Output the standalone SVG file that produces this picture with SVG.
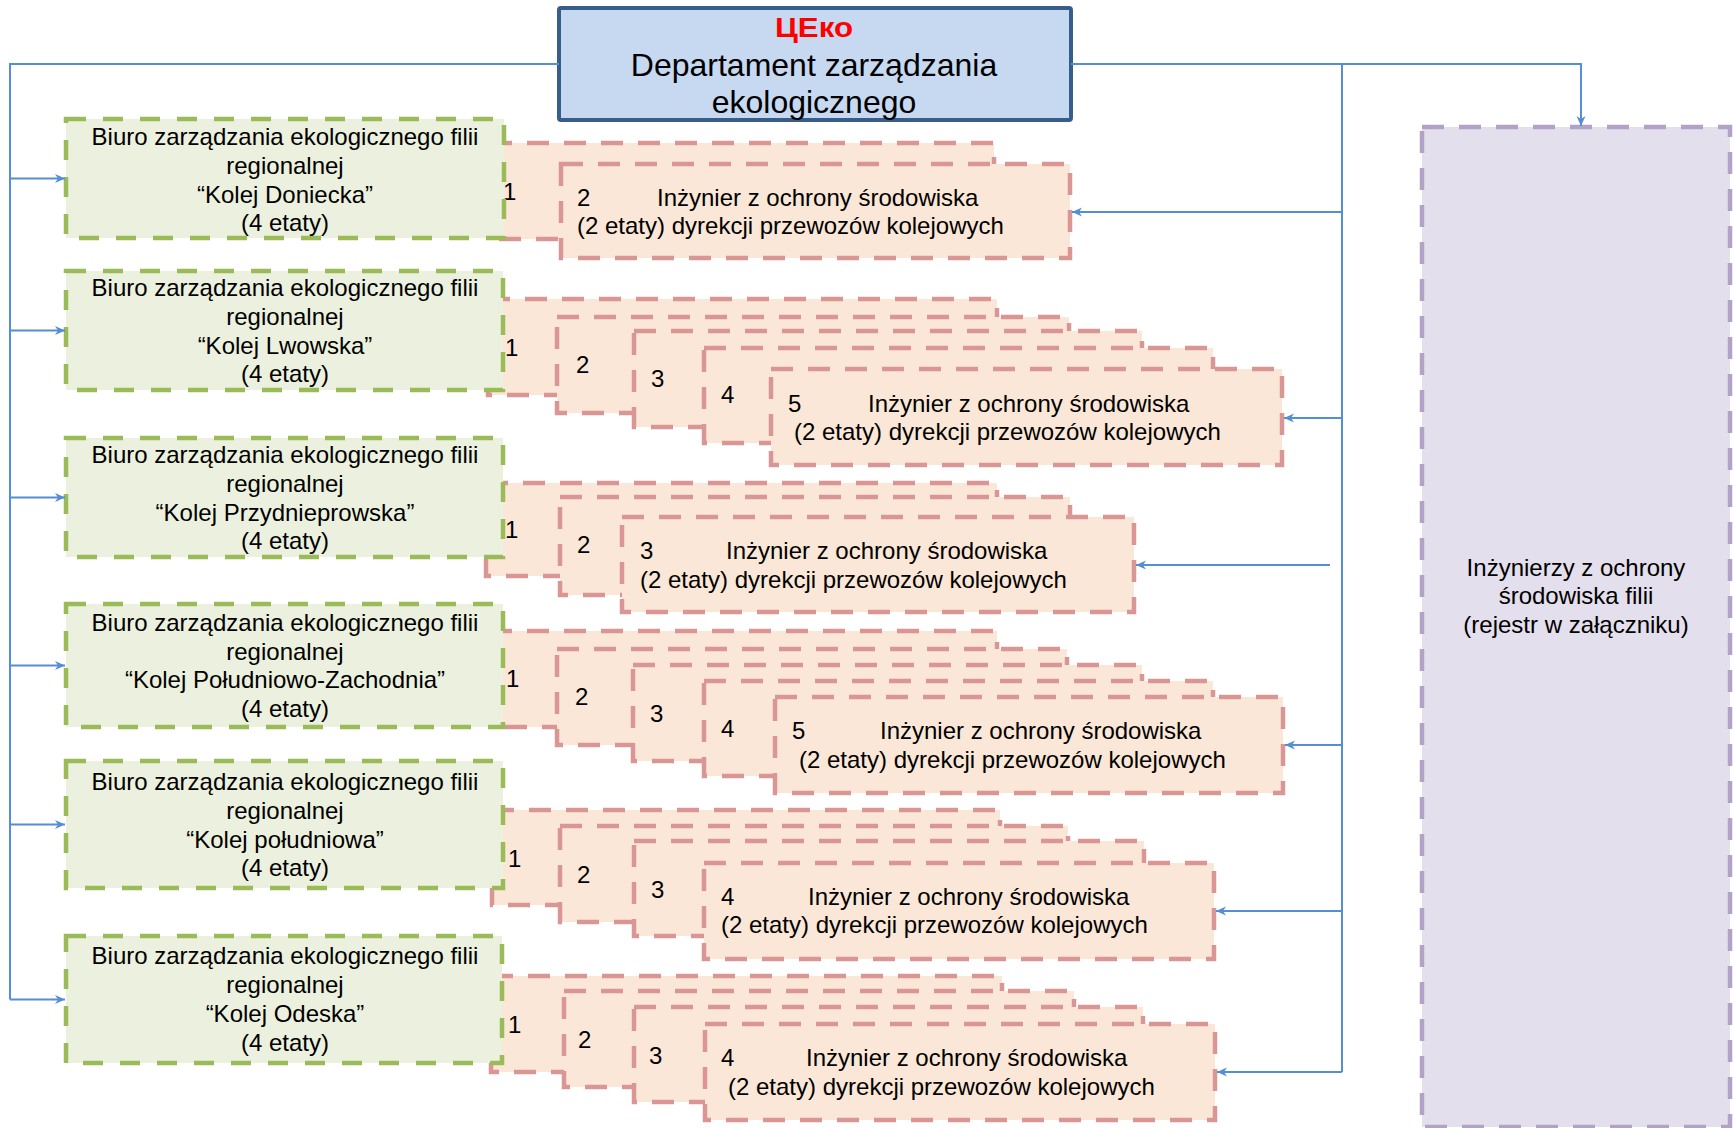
<svg xmlns="http://www.w3.org/2000/svg" width="1734" height="1128" viewBox="0 0 1734 1128">
<style>
text{font-family:"Liberation Sans",Arial,sans-serif;fill:#000}
.t24{font-size:24px}
.c{text-anchor:middle}
.top{fill:#C6D9F1;stroke:#385D8A;stroke-width:4}
.grn{fill:#EBF1DE;stroke:#9BBB59;stroke-width:4.5;stroke-dasharray:20 17}
.pnk{fill:#FBE7D7;stroke:#D99694;stroke-width:4.5;stroke-dasharray:22 15}
.pur{fill:#E4DFEC;stroke:#B2A2C7;stroke-width:4.5;stroke-dasharray:22 15}
.con{fill:none;stroke:#558ED5;stroke-width:2}
.arr{fill:none;stroke:#558ED5;stroke-width:2;marker-end:url(#ah)}
</style>
<defs>
<marker id="ah" markerUnits="userSpaceOnUse" markerWidth="14" markerHeight="12" viewBox="-1 -6 13 12" refX="10" refY="0" orient="auto">
<path d="M0,-4.5 L10,0 L0,4.5 L3,0 Z" fill="#558ED5"/>
</marker>
</defs>

<g id="dept">
<rect class="top" x="559" y="8" width="512" height="112" rx="2"/>
<text x="814" y="37" class="c" style="font-size:28px;font-weight:bold;fill:#FF0000" textLength="78" lengthAdjust="spacingAndGlyphs">ЦЕко</text>
<text x="814" y="76" class="c" style="font-size:32px">Departament zarządzania</text>
<text x="814" y="113" class="c" style="font-size:32px">ekologicznego</text>
</g>

<!-- engineer stacks -->
<g id="eng1" class="t24">
<rect class="pnk" x="490" y="143" width="504" height="96"/>
<text x="503" y="200">1</text>
<rect class="pnk" x="561" y="164" width="509" height="94"/>
<text x="577" y="206">2</text>
<text x="657" y="206">Inżynier z ochrony środowiska</text>
<text x="577" y="234">(2 etaty) dyrekcji przewozów kolejowych</text>
</g>

<g id="eng2" class="t24">
<rect class="pnk" x="488" y="299" width="509" height="96"/>
<text x="505" y="356">1</text>
<rect class="pnk" x="557" y="317" width="512" height="96"/>
<text x="576" y="373">2</text>
<rect class="pnk" x="634" y="331" width="508" height="96"/>
<text x="651" y="387">3</text>
<rect class="pnk" x="704" y="348" width="509" height="95"/>
<text x="721" y="403">4</text>
<rect class="pnk" x="771" y="369" width="511" height="96"/>
<text x="788" y="412">5</text>
<text x="868" y="412">Inżynier z ochrony środowiska</text>
<text x="794" y="440">(2 etaty) dyrekcji przewozów kolejowych</text>
</g>

<g id="eng3" class="t24">
<rect class="pnk" x="486" y="483" width="511" height="93"/>
<text x="505" y="538">1</text>
<rect class="pnk" x="560" y="497" width="510" height="98"/>
<text x="577" y="553">2</text>
<rect class="pnk" x="622" y="517" width="512" height="95"/>
<text x="640" y="559">3</text>
<text x="726" y="559">Inżynier z ochrony środowiska</text>
<text x="640" y="588">(2 etaty) dyrekcji przewozów kolejowych</text>
</g>

<g id="eng4" class="t24">
<rect class="pnk" x="490" y="631" width="507" height="96"/>
<text x="506" y="687">1</text>
<rect class="pnk" x="557" y="649" width="510" height="96"/>
<text x="575" y="705">2</text>
<rect class="pnk" x="633" y="665" width="509" height="96"/>
<text x="650" y="722">3</text>
<rect class="pnk" x="704" y="681" width="509" height="95"/>
<text x="721" y="737">4</text>
<rect class="pnk" x="775" y="697" width="508" height="96"/>
<text x="792" y="739">5</text>
<text x="880" y="739">Inżynier z ochrony środowiska</text>
<text x="799" y="768">(2 etaty) dyrekcji przewozów kolejowych</text>
</g>

<g id="eng5" class="t24">
<rect class="pnk" x="492" y="810" width="508" height="95"/>
<text x="508" y="867">1</text>
<rect class="pnk" x="560" y="826" width="508" height="96"/>
<text x="577" y="883">2</text>
<rect class="pnk" x="634" y="841" width="510" height="95"/>
<text x="651" y="898">3</text>
<rect class="pnk" x="704" y="863" width="510" height="96"/>
<text x="721" y="905">4</text>
<text x="808" y="905">Inżynier z ochrony środowiska</text>
<text x="721" y="933">(2 etaty) dyrekcji przewozów kolejowych</text>
</g>

<g id="eng6" class="t24">
<rect class="pnk" x="491" y="976" width="511" height="96"/>
<text x="508" y="1033">1</text>
<rect class="pnk" x="564" y="991" width="510" height="96"/>
<text x="578" y="1048">2</text>
<rect class="pnk" x="634" y="1007" width="509" height="95"/>
<text x="649" y="1064">3</text>
<rect class="pnk" x="705" y="1024" width="510" height="96"/>
<text x="721" y="1066">4</text>
<text x="806" y="1066">Inżynier z ochrony środowiska</text>
<text x="728" y="1095">(2 etaty) dyrekcji przewozów kolejowych</text>
</g>

<!-- regional offices -->
<g id="biuro1" class="t24">
<rect class="grn" x="66" y="119" width="438" height="119"/>
<text class="c" x="285" y="145">Biuro zarządzania ekologicznego filii</text>
<text class="c" x="285" y="174">regionalnej</text>
<text class="c" x="285" y="203">“Kolej Doniecka”</text>
<text class="c" x="285" y="231">(4 etaty)</text>
</g>
<g id="biuro2" class="t24">
<rect class="grn" x="66" y="271" width="437" height="119"/>
<text class="c" x="285" y="296">Biuro zarządzania ekologicznego filii</text>
<text class="c" x="285" y="325">regionalnej</text>
<text class="c" x="285" y="354">“Kolej Lwowska”</text>
<text class="c" x="285" y="382">(4 etaty)</text>
</g>
<g id="biuro3" class="t24">
<rect class="grn" x="66" y="438" width="437" height="119"/>
<text class="c" x="285" y="463">Biuro zarządzania ekologicznego filii</text>
<text class="c" x="285" y="492">regionalnej</text>
<text class="c" x="285" y="521">“Kolej Przydnieprowska”</text>
<text class="c" x="285" y="549">(4 etaty)</text>
</g>
<g id="biuro4" class="t24">
<rect class="grn" x="66" y="604" width="437" height="123"/>
<text class="c" x="285" y="631">Biuro zarządzania ekologicznego filii</text>
<text class="c" x="285" y="660">regionalnej</text>
<text class="c" x="285" y="688">“Kolej Południowo-Zachodnia”</text>
<text class="c" x="285" y="717">(4 etaty)</text>
</g>
<g id="biuro5" class="t24">
<rect class="grn" x="66" y="761" width="437" height="127"/>
<text class="c" x="285" y="790">Biuro zarządzania ekologicznego filii</text>
<text class="c" x="285" y="819">regionalnej</text>
<text class="c" x="285" y="848">“Kolej południowa”</text>
<text class="c" x="285" y="876">(4 etaty)</text>
</g>
<g id="biuro6" class="t24">
<rect class="grn" x="66" y="936" width="436" height="127"/>
<text class="c" x="285" y="964">Biuro zarządzania ekologicznego filii</text>
<text class="c" x="285" y="993">regionalnej</text>
<text class="c" x="285" y="1022">“Kolej Odeska”</text>
<text class="c" x="285" y="1051">(4 etaty)</text>
</g>

<g id="filie" class="t24">
<rect class="pur" x="1422" y="127" width="308" height="1000"/>
<text class="c" x="1576" y="576">Inżynierzy z ochrony</text>
<text class="c" x="1576" y="604">środowiska filii</text>
<text class="c" x="1576" y="633">(rejestr w załączniku)</text>
</g>

<g id="connectors">
<path class="con" d="M559,64 H10 V999.5"/>
<path class="arr" d="M10,178.5 H65"/>
<path class="arr" d="M10,330.5 H65"/>
<path class="arr" d="M10,497.5 H65"/>
<path class="arr" d="M10,665.5 H65"/>
<path class="arr" d="M10,824.5 H65"/>
<path class="arr" d="M10,999.5 H65"/>
<path class="con" d="M1071,64 H1342 V1072"/>
<path class="arr" d="M1342,64 H1581 V126"/>
<path class="arr" d="M1342,212 H1072"/>
<path class="arr" d="M1342,418 H1284"/>
<path class="arr" d="M1330,565 H1136"/>
<path class="arr" d="M1342,745 H1285"/>
<path class="arr" d="M1342,911 H1216"/>
<path class="arr" d="M1342,1072 H1217"/>
</g>
</svg>
